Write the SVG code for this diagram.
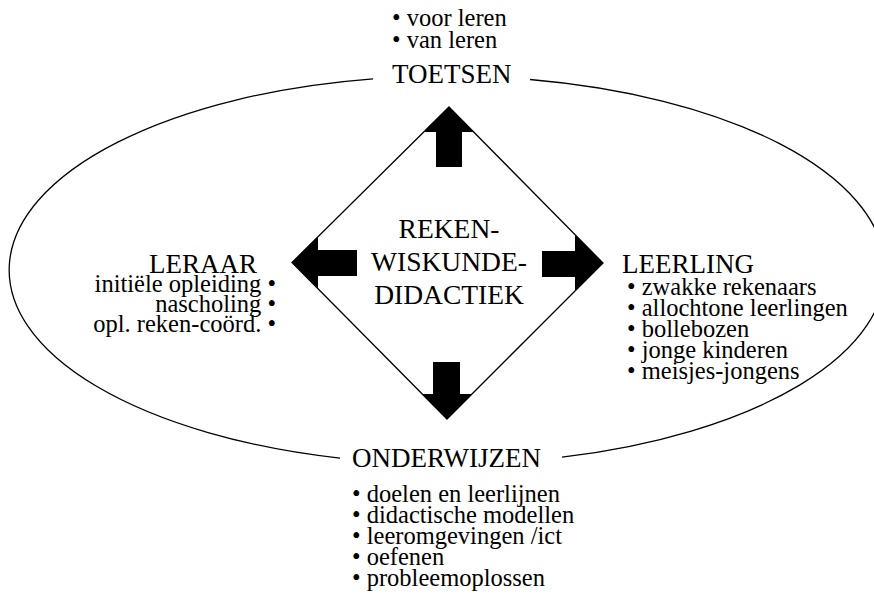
<svg xmlns="http://www.w3.org/2000/svg" width="874" height="593" viewBox="0 0 874 593" font-family="Times New Roman, Liberation Serif, Tinos, serif">
<rect width="874" height="593" fill="#fff"/>
<g id="cycle" fill="none" stroke="#000" stroke-width="1.3">
<path d="M530,79.5 A438,194 0 0 1 562,457.2"/>
<path d="M340,458.1 A438,194 0 0 1 373,78.8"/>
</g>
<g id="center">
<polygon fill="none" stroke="#000" stroke-width="1.3" points="449,107 603,263 447,419 292,262.5"/>
<text x="449" y="238" font-size="27.5" text-anchor="middle">REKEN-</text>
<text x="449" y="271" font-size="27.5" text-anchor="middle">WISKUNDE-</text>
<text x="449" y="304" font-size="27.5" text-anchor="middle">DIDACTIEK</text>
</g>
<g id="toetsen">
<text x="392" y="26" font-size="24.5">• voor leren</text>
<text x="392" y="48" font-size="24.5">• van leren</text>
<text x="392" y="83" font-size="27">TOETSEN</text>
</g>
<g id="leraar">
<text x="149" y="273" font-size="27">LERAAR</text>
<text x="276" y="292" font-size="24.5" text-anchor="end">initiële opleiding •</text>
<text x="276" y="312" font-size="24.5" text-anchor="end">nascholing •</text>
<text x="276" y="332" font-size="24.5" text-anchor="end">opl. reken-coörd. •</text>
</g>
<g id="leerling">
<text x="622" y="273" font-size="27">LEERLING</text>
<text x="627" y="295" font-size="24.5">• zwakke rekenaars</text>
<text x="627" y="316" font-size="24.5">• allochtone leerlingen</text>
<text x="627" y="337" font-size="24.5">• bollebozen</text>
<text x="627" y="358" font-size="24.5">• jonge kinderen</text>
<text x="627" y="379" font-size="24.5">• meisjes-jongens</text>
</g>
<g id="onderwijzen">
<text x="352" y="467" font-size="27">ONDERWIJZEN</text>
<text x="352" y="502" font-size="24.5">• doelen en leerlijnen</text>
<text x="352" y="523" font-size="24.5">• didactische modellen</text>
<text x="352" y="544" font-size="24.5">• leeromgevingen /ict</text>
<text x="352" y="565" font-size="24.5">• oefenen</text>
<text x="352" y="586" font-size="24.5">• probleemoplossen</text>
</g>
<g id="connectors" fill="#000" stroke="none">
<polygon points="449,107 474,132 462,132 462,167 436,167 436,132 424,132"/>
<polygon points="292,262.5 318,236.5 318,250 357,250 357,276 318,276 318,288.5"/>
<polygon points="603,263 575,235 575,251 542,251 542,277 575,277 575,291"/>
<polygon points="447,419 472,394 460,394 460,362 433,362 433,394 422,394"/>
</g>
</svg>
